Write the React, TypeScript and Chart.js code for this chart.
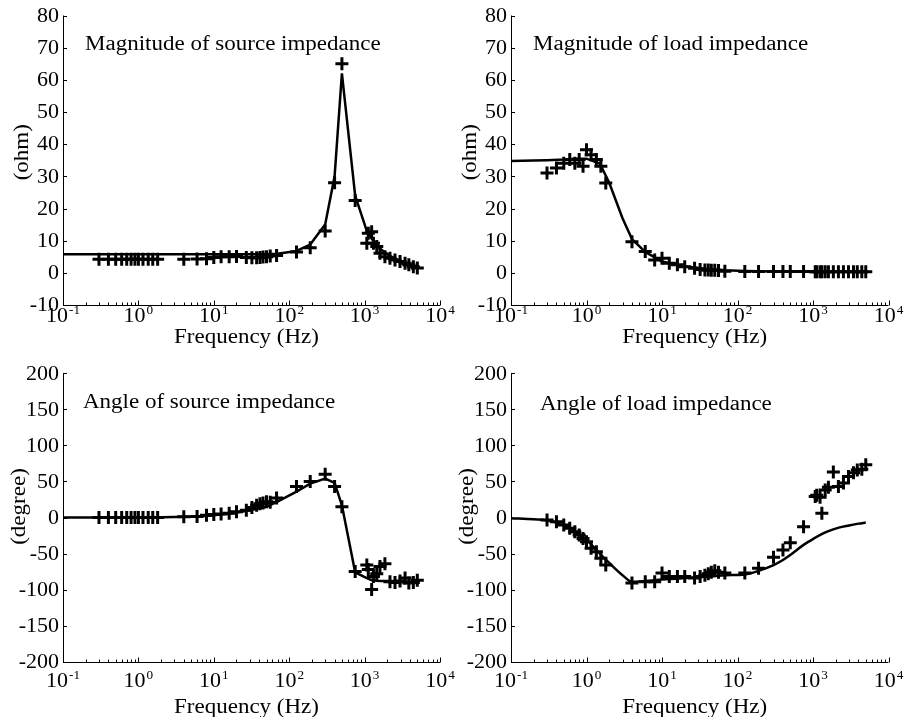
import React, { useEffect, useRef } from "react";
import { Chart, registerables } from "chart.js";
Chart.register(...registerables);

// ---------------- data ----------------
const measFreq = [
  0.3, 0.4, 0.5, 0.6, 0.7, 0.8, 0.9, 1.0, 1.15, 1.35, 1.55, 1.8,
  4, 6, 8, 10, 12.5, 16, 20, 27, 32, 37, 41, 45, 50, 56, 68,
  125, 190, 300, 400, 500, 750,
  1070, 1120, 1240, 1310, 1450, 1600, 1860, 2170, 2530, 2950, 3440, 3860, 4430, 5000,
];
const srcMagMeas = [
  4.2, 4.2, 4.2, 4.2, 4.2, 4.2, 4.2, 4.2, 4.2, 4.2, 4.2, 4.2,
  4.2, 4.3, 4.4, 4.8, 5.0, 5.0, 5.1, 4.8, 4.7, 4.7, 4.8, 4.9, 5.0, 5.2, 5.4,
  6.5, 7.8, 13, 28, 65, 22.5,
  9.2, 12.3, 12.8, 9.2, 8.2, 6.1, 5.0, 4.5, 4.0, 3.5, 3.0, 2.5, 1.9, 1.5,
];
const loadMagMeas = [
  31, 32.6, 34.1, 35.2, 34.1, 35.2, 33.1, 38.3, 36.7, 35.2, 33.1, 27.9,
  9.7, 6.6, 4.0, 4.5, 3.0, 2.5, 1.9, 1.4, 1.0, 0.9, 0.9, 0.8, 0.8, 0.7, 0.5,
  0.4, 0.4, 0.4, 0.4, 0.4, 0.4,
  0.3, 0.3, 0.3, 0.3, 0.3, 0.3, 0.3, 0.3, 0.3, 0.3, 0.3, 0.3, 0.3, 0.3,
];
const srcAngMeas = [
  0, 0, 0, 0, 0, 0, 0, 0, 0, 0, 0, 0,
  1, 1.5, 3, 4, 5, 6, 8, 10, 14, 17, 19, 20, 22, 21, 27,
  43, 50, 60, 43, 15, -75,
  -66, -72, -100, -82, -78, -68, -64, -89, -90, -88, -84, -91, -90, -87,
];
const loadAngMeas = [
  -3.5, -5.8, -10.4, -15, -19.7, -24.3, -29, -33.6, -42.7, -47.4, -56.6, -65.9,
  -91, -89, -89, -77, -82, -82, -82, -84, -82, -80, -78, -76, -74, -76, -77,
  -77, -70.5, -55, -45, -35, -13,
  29, 31, 28, 6, 38, 42, 63, 43, 48, 57, 62, 66, 67, 73,
];

const modelFreq = [
  0.1, 0.2, 0.3, 0.5, 0.7, 1, 1.5, 2, 3, 4, 6, 10, 20, 30, 50, 70,
  125, 190, 300, 400, 500, 750, 1070, 1250, 1600, 2200, 3000, 4000, 5000,
];
const srcMagModel = [
  5.8, 5.8, 5.8, 5.8, 5.8, 5.8, 5.8, 5.8, 5.8, 5.8, 5.8, 5.8, 5.8, 5.8, 5.8, 5.9,
  6.8, 8.8, 15, 30, 62, 24, 13, 10.5, 7.5, 5.2, 3.6, 2.6, 2.0,
];
const loadMagModel = [
  34.8, 34.9, 35, 35.2, 35.5, 35.5, 34, 28, 17, 10.5, 6.5, 3.5, 2.0, 1.5, 1.0, 0.8,
  0.6, 0.5, 0.4, 0.4, 0.4, 0.4, 0.4, 0.35, 0.35, 0.3, 0.3, 0.3, 0.3,
];
const srcAngModel = [
  0, 0, 0, 0, 0, 0.2, 0.3, 0.5, 0.8, 1, 1.5, 3, 7, 10, 15, 22,
  36, 47, 54, 48, 17, -76, -84, -87, -88, -88, -89, -89, -88,
];
const loadAngModel = [
  -1, -2.5, -4, -11, -19, -31, -50, -63, -80, -89, -88, -86, -84, -83, -81, -80,
  -79, -74, -66, -59, -52, -38, -28, -24, -19, -14, -11, -8.5, -7,
];

const xDecades = [0.1, 1, 10, 100, 1000, 10000];
const xExponents = ["-1", "0", "1", "2", "3", "4"];
const magTicks = [-10, 0, 10, 20, 30, 40, 50, 60, 70, 80];
const angTicks = [-200, -150, -100, -50, 0, 50, 100, 150, 200];

const titles = [
  "Magnitude of source impedance",
  "Magnitude of load impedance",
  "Angle of source impedance",
  "Angle of load impedance",
];
const xTitle = "Frequency (Hz)";
const yTitles = ["(ohm)", "(degree)"];

// ---------------- drawing helpers ----------------
const FONT = '"Liberation Serif", "Times New Roman", Times, serif';
const STRETCH = 1.15;
const TICK_STRETCH = 1.1;

function drawText(
  ctx: CanvasRenderingContext2D,
  text: string,
  x: number,
  y: number,
  size: number,
  align: CanvasTextAlign,
  baseline: CanvasTextBaseline,
  stretch: number,
  rot = 0
) {
  ctx.save();
  ctx.translate(x, y);
  if (rot) ctx.rotate(rot);
  ctx.scale(stretch, 1);
  ctx.font = `${size}px ${FONT}`;
  ctx.textAlign = align;
  ctx.textBaseline = baseline;
  ctx.fillStyle = "#000";
  ctx.fillText(text, 0, 0);
  ctx.restore();
}

type Cfg = {
  left: number;
  top: number;
  width: number;
  height: number;
  padding: { left: number; right: number; top: number; bottom: number };
  yTicks: number[];
  meas: number[];
  model: number[];
  title: string;
  yTitle: string;
  titleDx: number;
  titleDy: number;
  tickDy: number;
  xTitleDy: number;
  yTitleDx: number;
  yTitleDy: number;
  smooth: boolean;
};

const axesPlugin = {
  id: "matlabAxes",
  afterDraw(chart: any) {
    const cfg: Cfg = chart.options.plugins.matlabAxes.cfg;
    const ctx: CanvasRenderingContext2D = chart.ctx;
    const { left, right, top, bottom } = chart.chartArea;
    const xs = chart.scales.x;
    const ys = chart.scales.y;
    ctx.save();
    ctx.strokeStyle = "#000";
    ctx.lineWidth = 1;
    ctx.beginPath();
    ctx.moveTo(Math.round(left) + 0.5, top);
    ctx.lineTo(Math.round(left) + 0.5, Math.round(bottom) + 0.5);
    ctx.lineTo(right, Math.round(bottom) + 0.5);
    ctx.stroke();

    // y ticks + labels
    cfg.yTicks.forEach((v) => {
      const py = ys.getPixelForValue(v);
      ctx.beginPath();
      ctx.moveTo(left, Math.round(py) + 0.5);
      ctx.lineTo(left + 4, Math.round(py) + 0.5);
      ctx.stroke();
      drawText(ctx, String(v), left - 4, py + 1, 20, "right", "middle", TICK_STRETCH);
    });

    // x ticks (major + minor)
    const bx = Math.round(bottom) + 0.5;
    xDecades.forEach((d, i) => {
      const px = xs.getPixelForValue(d);
      ctx.beginPath();
      ctx.moveTo(Math.round(px) + 0.5, bx);
      ctx.lineTo(Math.round(px) + 0.5, bx - 5);
      ctx.stroke();
      if (i < xDecades.length - 1) {
        for (let m = 2; m <= 9; m++) {
          const mx = xs.getPixelForValue(d * m);
          ctx.beginPath();
          ctx.moveTo(Math.round(mx) + 0.5, bx);
          ctx.lineTo(Math.round(mx) + 0.5, bx - 3);
          ctx.stroke();
        }
      }
      // label 10^n
      ctx.save();
      ctx.font = `20px ${FONT}`;
      const w1 = ctx.measureText("10").width * TICK_STRETCH;
      ctx.font = `12px ${FONT}`;
      const w2 = ctx.measureText(xExponents[i]).width * TICK_STRETCH;
      ctx.restore();
      const total = w1 + w2 + 1;
      const sx = px - total / 2;
      const by = bottom + cfg.tickDy;
      drawText(ctx, "10", sx, by, 20, "left", "alphabetic", TICK_STRETCH);
      drawText(ctx, xExponents[i], sx + w1 + 1, by - 8, 12, "left", "alphabetic", TICK_STRETCH);
    });

    // titles
    drawText(ctx, xTitle, (left + right) / 2 - 5, bottom + cfg.xTitleDy, 20, "center", "alphabetic", STRETCH);
    drawText(
      ctx,
      cfg.yTitle,
      left - cfg.yTitleDx,
      (top + bottom) / 2 + cfg.yTitleDy,
      20,
      "center",
      "middle",
      STRETCH,
      -Math.PI / 2
    );
    drawText(ctx, cfg.title, left + cfg.titleDx, top + cfg.titleDy, 20, "left", "alphabetic", STRETCH);
    ctx.restore();
  },
};

function SubChart({ cfg }: { cfg: Cfg }) {
  const ref = useRef<HTMLCanvasElement | null>(null);
  useEffect(() => {
    if (!ref.current) return;
    const yMin = cfg.yTicks[0];
    const yMax = cfg.yTicks[cfg.yTicks.length - 1];
    const chart = new Chart(ref.current, {
      type: "line",
      data: {
        datasets: [
          {
            data: modelFreq.map((f, i) => ({ x: f, y: cfg.model[i] })),
            borderColor: "#000",
            borderWidth: 2.5,
            pointRadius: 0,
            tension: 0,
            cubicInterpolationMode: cfg.smooth ? "monotone" : "default",
            fill: false,
          } as any,
          {
            data: measFreq.map((f, i) => ({ x: f, y: cfg.meas[i] })),
            showLine: false,
            pointStyle: "cross",
            pointRadius: 6.5,
            pointBorderWidth: 3,
            pointBorderColor: "#000",
            borderColor: "#000",
          } as any,
        ],
      },
      options: {
        responsive: false,
        animation: false,
        events: [],
        layout: { padding: cfg.padding },
        plugins: {
          legend: { display: false },
          tooltip: { enabled: false },
          matlabAxes: { cfg },
        } as any,
        scales: {
          x: { type: "logarithmic", min: 0.1, max: 10000, display: false },
          y: { type: "linear", min: yMin, max: yMax, display: false },
        },
      },
      plugins: [axesPlugin],
    });
    return () => chart.destroy();
  }, [cfg]);
  return (
    <canvas
      ref={ref}
      width={cfg.width}
      height={cfg.height}
      style={{ position: "absolute", left: cfg.left, top: cfg.top, width: cfg.width, height: cfg.height }}
    />
  );
}

const topPad = { top: 15.5, bottom: 53 };
const botPad = { top: 15.3, bottom: 55.3 };

const configs: Cfg[] = [
  {
    left: 0, top: 0, width: 455, height: 358,
    padding: { left: 63, right: 15, ...topPad },
    yTicks: magTicks, meas: srcMagMeas, model: srcMagModel,
    title: titles[0], yTitle: yTitles[0],
    titleDx: 22, titleDy: 34.5, tickDy: 17, xTitleDy: 38, yTitleDx: 40, yTitleDy: -8, smooth: false,
  },
  {
    left: 450, top: 0, width: 459, height: 358,
    padding: { left: 61, right: 20.5, ...topPad },
    yTicks: magTicks, meas: loadMagMeas, model: loadMagModel,
    title: titles[1], yTitle: yTitles[0],
    titleDx: 22, titleDy: 34.5, tickDy: 17, xTitleDy: 38, yTitleDx: 40, yTitleDy: -8, smooth: false,
  },
  {
    left: 0, top: 358, width: 455, height: 359,
    padding: { left: 63, right: 15, ...botPad },
    yTicks: angTicks, meas: srcAngMeas, model: srcAngModel,
    title: titles[2], yTitle: yTitles[1],
    titleDx: 20, titleDy: 35, tickDy: 25, xTitleDy: 51, yTitleDx: 43, yTitleDy: -11, smooth: false,
  },
  {
    left: 450, top: 358, width: 459, height: 359,
    padding: { left: 61, right: 20.5, ...botPad },
    yTicks: angTicks, meas: loadAngMeas, model: loadAngModel,
    title: titles[3], yTitle: yTitles[1],
    titleDx: 29, titleDy: 37, tickDy: 25, xTitleDy: 51, yTitleDx: 43.5, yTitleDy: -11, smooth: true,
  },
];

export default function App() {
  return (
    <div style={{ position: "absolute", left: 0, top: 0, width: 909, height: 717, background: "#fff", overflow: "hidden" }}>
      {configs.map((c, i) => (
        <SubChart key={i} cfg={c} />
      ))}
    </div>
  );
}
